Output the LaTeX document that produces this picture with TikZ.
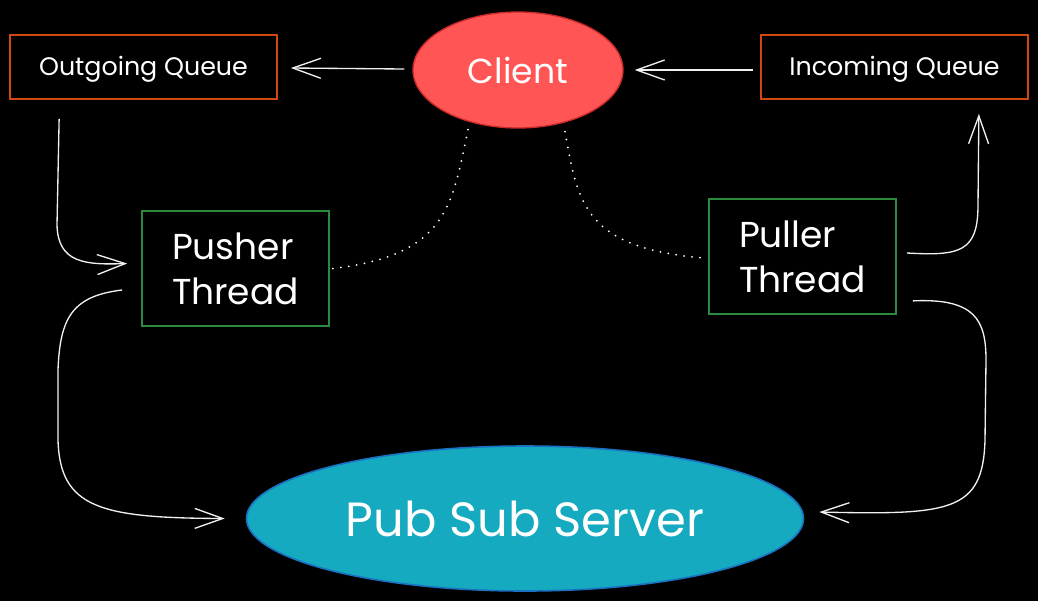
\documentclass[tikz,border=0pt]{standalone}
\usepackage{fontspec}
\setmainfont{Poppins}
\usetikzlibrary{arrows.meta,calc,shapes.geometric}
\definecolor{qline}{HTML}{D0470F}
\definecolor{tline}{HTML}{2B8A3E}
\definecolor{clfill}{HTML}{FF5555}
\definecolor{clline}{HTML}{C92A2A}
\definecolor{psfill}{HTML}{15AABF}
\definecolor{psline}{HTML}{1971C2}
\definecolor{wire}{HTML}{F0F0F0}
\begin{document}
\begin{tikzpicture}[x=0.75pt,y=-0.75pt,
  queuebox/.style={draw=qline,line width=1.3pt,fill=black,minimum width=267*0.75pt,minimum height=64*0.75pt,text=white,font=\fontsize{19}{22}\selectfont,inner sep=0pt},
  threadbox/.style={draw=tline,line width=1.3pt,fill=black,minimum width=187*0.75pt,minimum height=115*0.75pt,text=white,align=left,font=\fontsize{27}{34}\selectfont,inner sep=0pt},
  conn/.style={draw=wire,line width=1pt,-{Straight Barb[length=21pt,width=15pt,line width=1pt]}},
  dotline/.style={draw=white,line width=1.5pt,line cap=round,dash pattern=on 0pt off 6pt}]
\fill[black] (0,0) rectangle (1038,601);
\useasboundingbox (0,0) rectangle (1038,601);
\node[queuebox] (oq) at (143.5,67) {\raisebox{-6.5pt}[0pt][0pt]{Outgoing Queue}};
\node[queuebox] (iq) at (894.5,67) {\raisebox{-6.5pt}[0pt][0pt]{Incoming Queue}};
\node[ellipse,draw=clline,line width=1pt,fill=clfill,minimum width=210*0.75pt,minimum height=116*0.75pt,inner sep=0pt,text=white,font=\fontsize{26}{30}\selectfont] (cl) at (518,70) {Client};
\node[threadbox] (pu) at (235.5,268.5) {Pusher\\Thread};
\node[threadbox] (pl) at (802.5,256.5) {Puller\\Thread};
\node[ellipse,draw=psline,line width=1.2pt,fill=psfill,minimum width=557*0.75pt,minimum height=145*0.75pt,inner sep=0pt,text=white,font=\fontsize{36}{42}\selectfont] (ps) at (525,518.5) {Pub Sub Server};
% horizontal arrows
\draw[conn] ($(cl.west)+(-8,-1)$) -- ($(oq.east)+(13,1)$);
\draw[conn] ($(iq.west)+(-7,3)$) -- ($(cl.east)+(11,0)$);
% outgoing -> pusher
\draw[conn] ($(oq.south west)+(50,19)$) -- (57,225) .. controls (58,263) and (85,265) .. ($(pu.west)+(-14,-5)$);
% pusher -> pubsub
\draw[conn] ($(pu.west)+(-19,21.5)$) .. controls (72,296) and (60,318) .. (58,370) -- (58,440) .. controls (60,508) and (100,518) .. ($(ps.west)+(-21,0)$);
% puller -> incoming
\draw[conn] ($(pl.east)+(10,-3.5)$) .. controls (960,256) and (978,252) .. (978,205) -- ($(iq.south east)+(-50,14)$);
% puller -> pubsub
\draw[conn] ($(pl.south east)+(16,-14)$) .. controls (975,298) and (986,320) .. (986,360) -- (985,440) .. controls (983,512) and (950,515) .. ($(ps.east)+(15,-6.5)$);
% dotted links
\draw[dotline] ($(cl.south)+(-50,1)$) .. controls (452,205) and (448,255) .. ($(pu.east)+(3,0)$);
\draw[dotline] ($(cl.south)+(47,3)$) .. controls (578,205) and (585,248) .. ($(pl.west)+(-4,1.5)$);
\end{tikzpicture}
\end{document}
